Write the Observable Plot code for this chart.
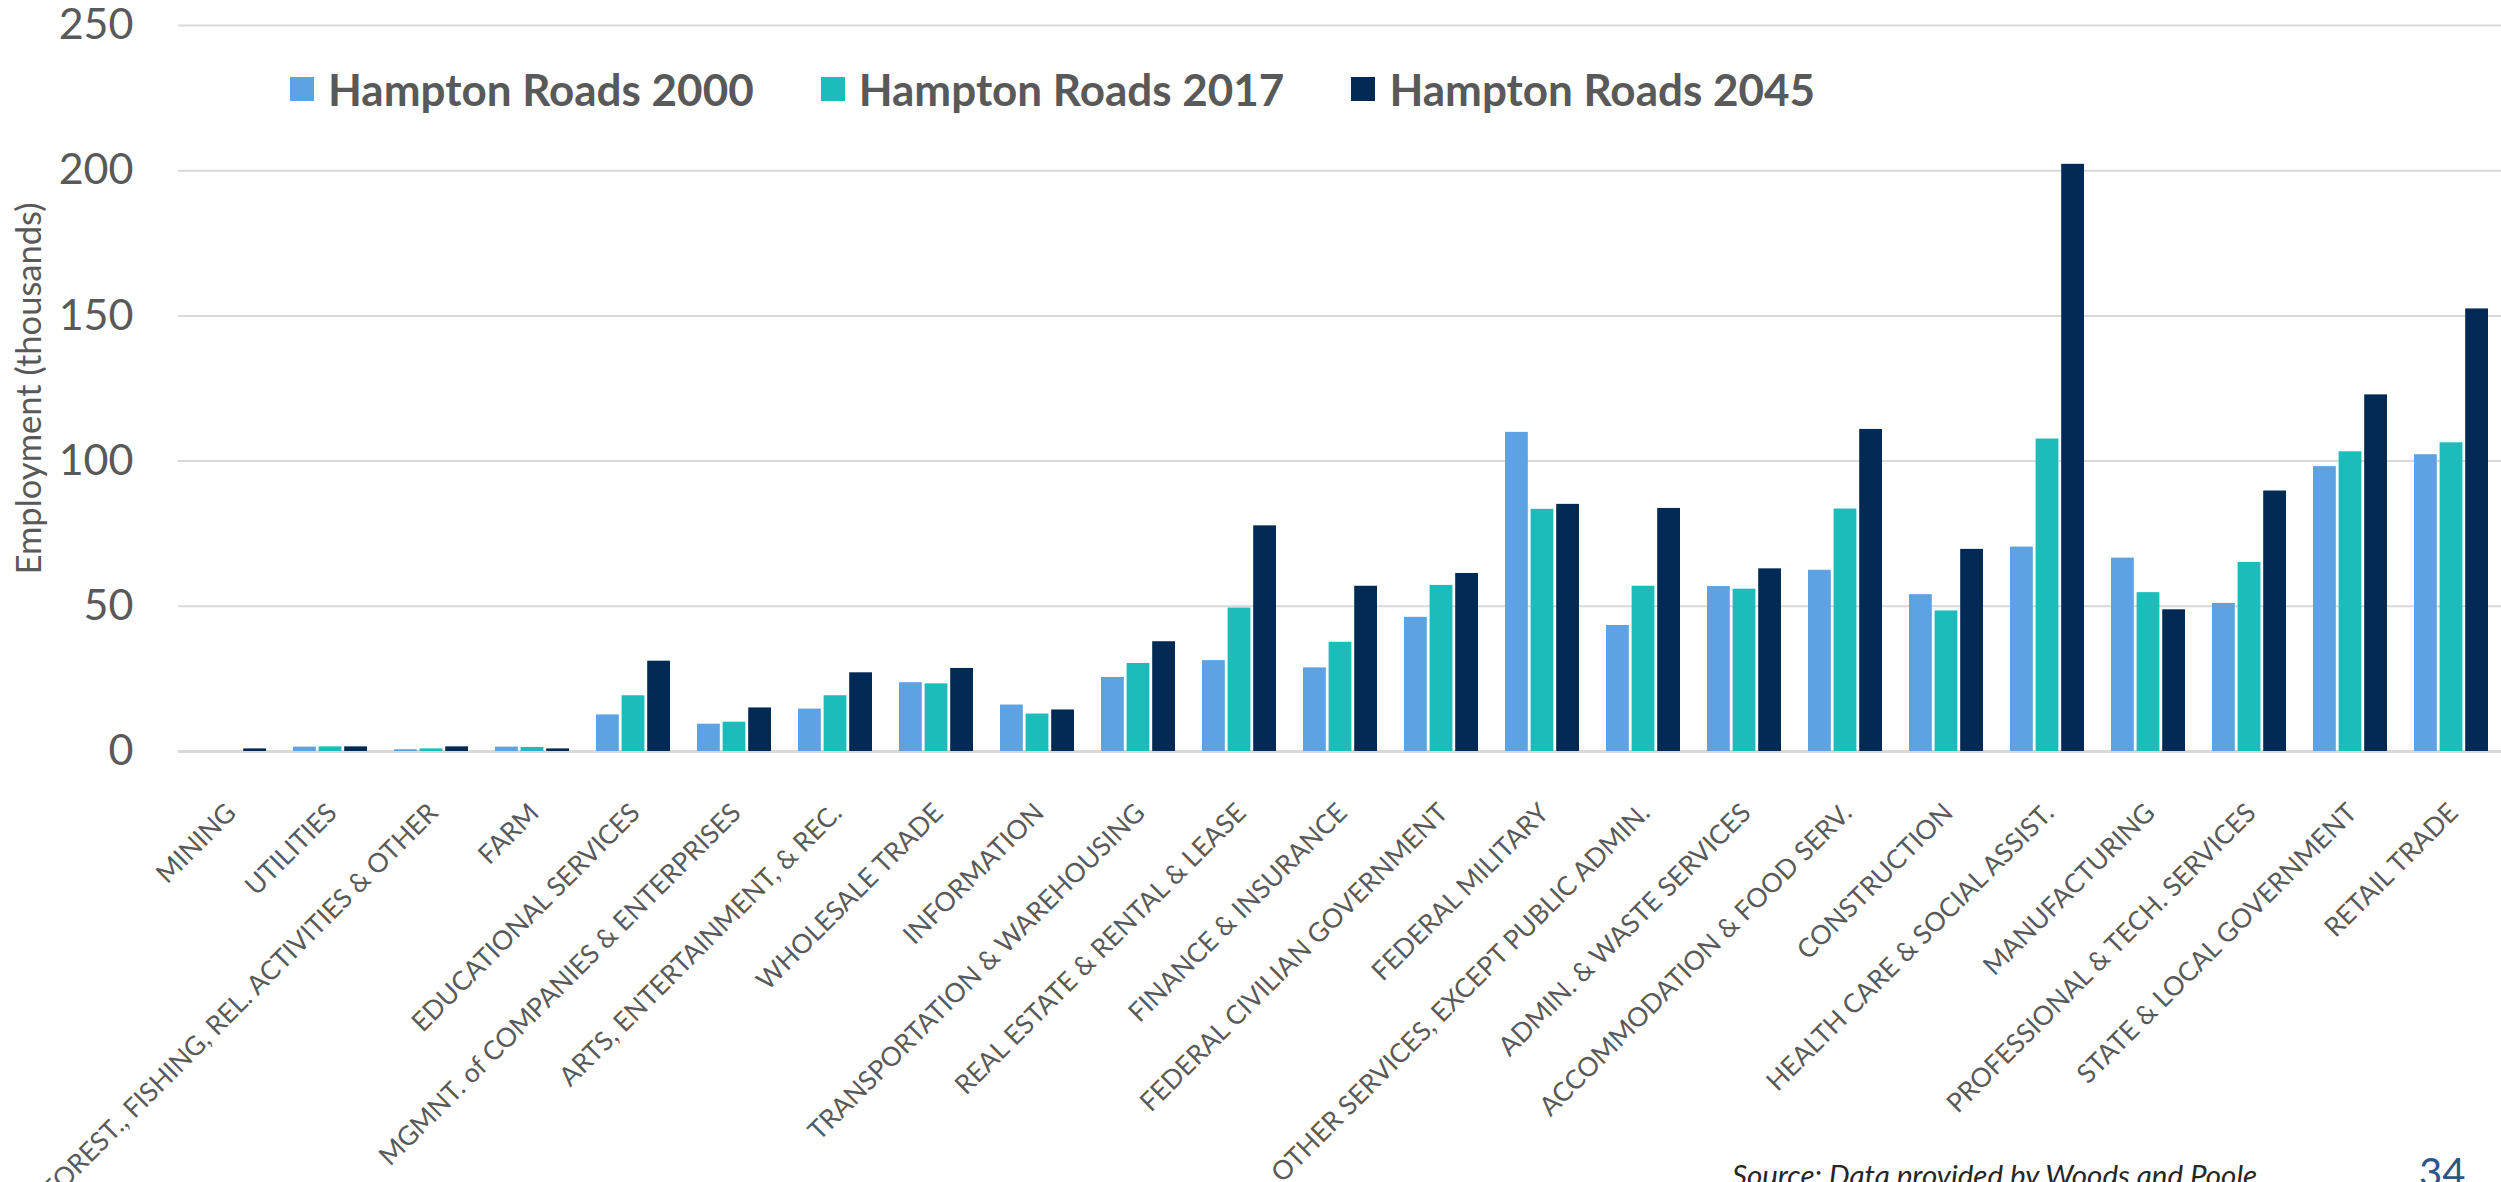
<!DOCTYPE html>
<html><head><meta charset="utf-8">
<script src="https://cdn.jsdelivr.net/npm/d3@7"></script>
<script src="https://cdn.jsdelivr.net/npm/@observablehq/plot@0.6"></script>
<style>
html,body{margin:0;padding:0;background:#fff;}
#wrap{position:relative;width:2501px;height:1182px;overflow:hidden;font-family:Lato,sans-serif;background:#fff;}
#chart{position:absolute;left:0;top:0;}
#legend{position:absolute;left:290px;top:67px;display:flex;align-items:center;font-weight:700;font-size:44px;color:#595959;line-height:44px;white-space:nowrap;}
.item{display:flex;align-items:center;margin-right:67px;}
.sw{width:24px;height:24px;margin-right:14px;flex:none;}
#source{position:absolute;left:1732px;top:1160px;font-style:italic;font-size:29.5px;line-height:29.5px;color:#262626;white-space:nowrap;}
#page{position:absolute;left:2419px;top:1152px;font-size:40px;line-height:40px;color:#2b5589;}
</style></head><body>
<div id="wrap"><div id="chart"></div><div id="legend"></div><div id="source"></div><div id="page"></div></div>
<script>
const categories = ["MINING","UTILITIES","FOREST., FISHING, REL. ACTIVITIES & OTHER","FARM","EDUCATIONAL SERVICES","MGMNT. of COMPANIES & ENTERPRISES","ARTS, ENTERTAINMENT, & REC.","WHOLESALE TRADE","INFORMATION","TRANSPORTATION & WAREHOUSING","REAL ESTATE & RENTAL & LEASE","FINANCE & INSURANCE","FEDERAL CIVILIAN GOVERNMENT","FEDERAL MILITARY","OTHER SERVICES, EXCEPT PUBLIC ADMIN.","ADMIN. & WASTE SERVICES","ACCOMMODATION & FOOD SERV.","CONSTRUCTION","HEALTH CARE & SOCIAL ASSIST.","MANUFACTURING","PROFESSIONAL & TECH. SERVICES","STATE & LOCAL GOVERNMENT","RETAIL TRADE"];
const hr2000 = [0, 1.5, 0.6, 1.5, 12.6, 9.4, 14.6, 23.7, 16.0, 25.5, 31.3, 28.8, 46.2, 109.9, 43.4, 56.8, 62.4, 54.0, 70.4, 66.6, 51.0, 98.1, 102.2];
const hr2017 = [0, 1.6, 0.9, 1.4, 19.2, 10.1, 19.2, 23.3, 12.9, 30.3, 49.4, 37.6, 57.2, 83.4, 56.9, 55.9, 83.5, 48.4, 107.6, 54.7, 65.1, 103.2, 106.3];
const hr2045 = [0.9, 1.6, 1.6, 0.9, 31.1, 15.0, 27.1, 28.6, 14.3, 37.8, 77.7, 56.9, 61.3, 85.1, 83.7, 62.9, 110.9, 69.6, 202.2, 48.8, 89.7, 122.8, 152.4];
const seriesNames = ["Hampton Roads 2000","Hampton Roads 2017","Hampton Roads 2045"];
const seriesColors = ["#5da2e2","#1bbcb9","#002a54"];
const yTicks = [0,50,100,150,200,250];
const yLabel = "Employment (thousands)";
const sourceText = "Source: Data provided by Woods and Poole";
const pageNumber = "34";

const seriesValues = [hr2000, hr2017, hr2045];
const rows = seriesValues.map((vals, s) => categories.map((c, i) => ({category: c, series: seriesNames[s], value: vals[i]})));

// band width is 74px; three bars of ~22.8px with ~2.8px gaps
const bw = 74, barW = 22.8, gap = (bw - 3 * barW) / 2;
const barMarks = rows.map((data, s) => Plot.barY(data, {
  x: "category", y: "value", fill: seriesColors[s],
  insetLeft: s * (barW + gap), insetRight: bw - s * (barW + gap) - barW
}));

const chart = Plot.plot({
  width: 2501, height: 1182,
  marginTop: 25, marginBottom: 431, marginLeft: 178, marginRight: 0,
  style: {fontFamily: "Lato, sans-serif", background: "#fff", overflow: "visible"},
  x: {type: "band", domain: categories, paddingInner: 0.268, paddingOuter: 0.1237, label: null},
  y: {domain: [0, 250], label: null},
  marks: [
    Plot.ruleY(yTicks.filter(d => d > 0), {stroke: "#d9d9d9", strokeWidth: 2}),
    Plot.ruleY([0], {stroke: "#d9d9d9", strokeWidth: 3}),
    ...barMarks,
    Plot.axisY({ticks: yTicks, tickSize: 0, tickPadding: 45, fontSize: 43, color: "#595959", label: null}),
    Plot.axisY({ticks: [], label: yLabel, labelAnchor: "center", labelArrow: "none", labelOffset: 162, fontSize: 34.5, color: "#595959"}),
    Plot.axisX({tickRotate: -45, tickSize: 0, tickPadding: 57, dx: 2, fontSize: 26.5, color: "#595959", label: null})
  ]
});
document.getElementById("chart").appendChild(chart);

const legend = document.getElementById("legend");
seriesNames.forEach((name, i) => {
  const item = document.createElement("div");
  item.className = "item";
  const sw = document.createElement("div");
  sw.className = "sw";
  sw.style.background = seriesColors[i];
  const t = document.createElement("span");
  t.textContent = name;
  item.appendChild(sw); item.appendChild(t);
  legend.appendChild(item);
});
document.getElementById("source").textContent = sourceText;
document.getElementById("page").textContent = pageNumber;
</script>
</body></html>
